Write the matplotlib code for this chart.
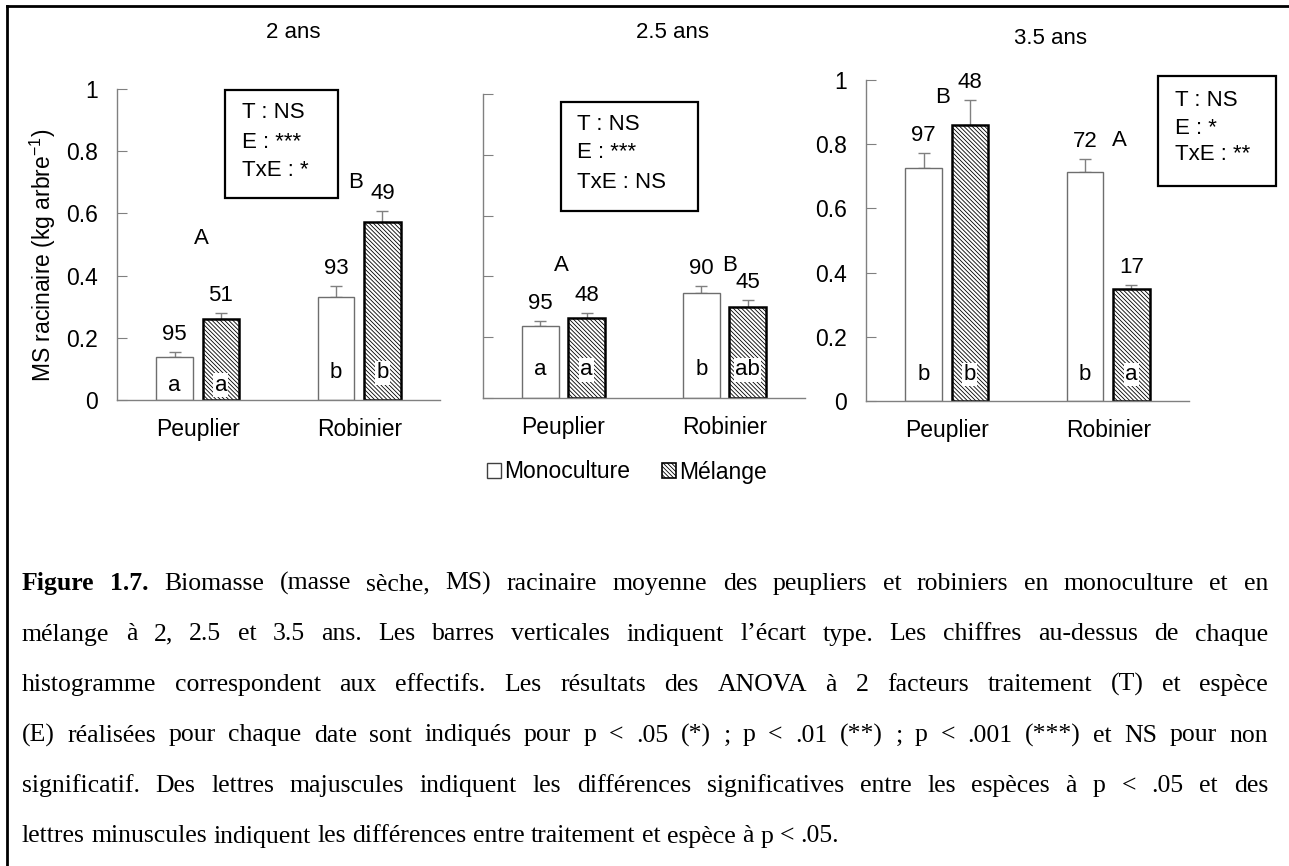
import numpy as np
import matplotlib
matplotlib.use("Agg")
import matplotlib.pyplot as plt
from matplotlib.patches import Patch, Rectangle
from matplotlib.lines import Line2D

plt.rcParams.update({'font.family': 'Liberation Sans', 'font.size': 16,
                     'mathtext.fontset': 'custom', 'mathtext.rm': 'Liberation Sans',
                     'hatch.linewidth': 0.6, 'hatch.color': '#202020'})

# data
titles = ["2 ans", "2.5 ans", "3.5 ans"]
species = ["Peuplier", "Robinier"]
treatments = ["Monoculture", "Mélange"]
mono_mean = [[0.138, 0.331], [0.237, 0.345], [0.726, 0.713]]
mono_sd = [[0.016, 0.036], [0.016, 0.025], [0.046, 0.041]]
mel_mean = [[0.260, 0.572], [0.263, 0.298], [0.860, 0.349]]
mel_sd = [[0.020, 0.036], [0.017, 0.024], [0.078, 0.012]]
mono_n = [[95, 93], [95, 90], [97, 72]]
mel_n = [[51, 49], [48, 45], [48, 17]]
mono_low = [["a", "b"], ["a", "b"], ["b", "b"]]
mel_low = [["a", "b"], ["a", "ab"], ["b", "a"]]
upper = [["A", "B"], ["A", "B"], ["B", "A"]]
upper_pos = [[(0.02, 0.518), (0.98, 0.70)],
             [(-0.01, 0.437), (1.03, 0.437)],
             [(-0.025, 0.947), (1.07, 0.813)]]
stats = [["T : NS", "E : ***", "TxE : *"],
         ["T : NS", "E : ***", "TxE : NS"],
         ["T : NS", "E : *", "TxE : **"]]

caption = [
    "Figure 1.7. Biomasse (masse sèche, MS) racinaire moyenne des peupliers et robiniers en monoculture et en",
    "mélange à 2, 2.5 et 3.5 ans. Les barres verticales indiquent l’écart type. Les chiffres au-dessus de chaque",
    "histogramme correspondent aux effectifs. Les résultats des ANOVA à 2 facteurs traitement (T) et espèce",
    "(E) réalisées pour chaque date sont indiqués pour p < .05 (*) ; p < .01 (**) ; p < .001 (***) et NS pour non",
    "significatif. Des lettres majuscules indiquent les différences significatives entre les espèces à p < .05 et des",
    "lettres minuscules indiquent les différences entre traitement et espèce à p < .05.",
]

W, H = 1289, 866
fig = plt.figure(figsize=(W / 100, H / 100), dpi=100)


def fx(px):
    return px / W


def fy(py):
    return 1 - py / H


GRAY = '#808080'
HATCH = '\\' * 8

# pixel frames of the three panels: left, right, y=0, y=1
frames = [(117, 440, 400, 89), (483, 805, 398, 94), (866, 1189, 401, 80)]
boxes = [(225, 90, 338, 198, 242, [113, 142, 170]),
         (561, 102, 698, 211, 577, [125, 153, 182]),
         (1158, 76, 1276, 186, 1175, [100, 128, 155])]
title_pos = [(293, 33), (673, 33), (1050, 39)]
low_y = [[0.03, 0.07], [0.075, 0.075], [0.065, 0.065]]

x = np.arange(len(species))
off, width = 0.143, 0.225

for i in range(3):
    l, r, b, t = frames[i]
    ax = fig.add_axes([fx(l), fy(b), (r - l) / W, (b - t) / H])
    ax.bar(x - off, mono_mean[i], width, color='white', edgecolor='#6e6e6e', lw=1, zorder=2)
    ax.bar(x + off, mel_mean[i], width, color='white', edgecolor='black', hatch=HATCH, lw=1.8, zorder=2)
    ax.errorbar(x - off, mono_mean[i], yerr=[np.zeros(2), mono_sd[i]], fmt='none',
                ecolor=GRAY, elinewidth=1, capsize=4, zorder=1)
    ax.errorbar(x + off, mel_mean[i], yerr=[np.zeros(2), mel_sd[i]], fmt='none',
                ecolor=GRAY, elinewidth=1, capsize=4, zorder=1)
    for j in range(2):
        ax.annotate(str(mono_n[i][j]), (x[j] - off, mono_mean[i][j] + mono_sd[i][j]),
                    xytext=(0, 5), textcoords='offset points', ha='center', va='bottom')
        ax.annotate(str(mel_n[i][j]), (x[j] + off, mel_mean[i][j] + mel_sd[i][j]),
                    xytext=(0, 5), textcoords='offset points', ha='center', va='bottom')
        ax.text(x[j] - off, low_y[i][j], mono_low[i][j], ha='center', va='baseline', zorder=3)
        ax.text(x[j] + off, low_y[i][j], mel_low[i][j], ha='center', va='baseline', zorder=3,
                bbox=dict(facecolor='white', edgecolor='none', pad=1))
        ax.text(upper_pos[i][j][0], upper_pos[i][j][1], upper[i][j], ha='center', va='center')

    ax.set_xlim(-0.5, 1.5)
    ax.set_ylim(0, 1)
    ax.set_xticks(x)
    ax.set_xticklabels(species)
    ax.set_yticks(np.arange(0, 1.01, 0.2))
    ax.set_yticklabels(['0', '0.2', '0.4', '0.6', '0.8', '1'])
    ax.tick_params(axis='x', length=0, pad=13, labelsize=16.5)
    ax.tick_params(axis='y', direction='in', length=7, color=GRAY, pad=14, labelsize=16.5,
                   labelleft=(i != 1))
    for s in ['top', 'right']:
        ax.spines[s].set_visible(False)
    for s in ['left', 'bottom']:
        ax.spines[s].set_color(GRAY)
        ax.spines[s].set_linewidth(1)
    ax.patch.set_visible(False)

    fig.text(fx(title_pos[i][0]), fy(title_pos[i][1]), titles[i], ha='center', va='center')

    bx0, by0, bx1, by1, tx, ty = boxes[i]
    fig.patches.append(Rectangle((fx(bx0), fy(by1)), (bx1 - bx0) / W, (by1 - by0) / H,
                                 transform=fig.transFigure, fill=False, edgecolor='black', lw=1.6))
    for k, line in enumerate(stats[i]):
        fig.text(fx(tx), fy(ty[k]), line, ha='left', va='center')

fig.text(fx(43), fy(255), r'MS racinaire (kg arbre$^{\mathregular{-1}}$)',
         rotation=90, ha='center', va='center', fontsize=16.5)

handles = [Patch(facecolor='white', edgecolor='#404040', lw=1),
           Patch(facecolor='white', edgecolor='black', hatch=HATCH, lw=1.2)]
fig.legend(handles, treatments, loc='center', bbox_to_anchor=(fx(627), fy(472)), ncol=2,
           frameon=False, handlelength=0.6, handleheight=0.6, handletextpad=0.15,
           columnspacing=1.4, fontsize=16.5)

# frame lines of the page cell
fig.add_artist(Line2D([fx(7), 1], [fy(6), fy(6)], color='black', lw=2, transform=fig.transFigure))
fig.add_artist(Line2D([fx(7), fx(7)], [fy(6), 0], color='black', lw=2, transform=fig.transFigure))

# justified caption
renderer = fig.canvas.get_renderer()
cap_size = 18.5
x0, x1 = 22, 1268
base_y = [590 + 50.5 * k for k in range(len(caption))]


def word_width(word, weight):
    tt = fig.text(0, 0, word, family='Liberation Serif', fontsize=cap_size, weight=weight)
    w = tt.get_window_extent(renderer).width
    tt.remove()
    return w


space_w = word_width('a a', 'normal') - 2 * word_width('a', 'normal')
for n_line, line in enumerate(caption):
    words = line.split(' ')
    weights = ['bold' if (n_line == 0 and k < 2) else 'normal' for k in range(len(words))]
    widths = [word_width(w, wt) for w, wt in zip(words, weights)]
    if n_line < len(caption) - 1:
        gap = (x1 - x0 - sum(widths)) / (len(words) - 1)
    else:
        gap = space_w
    cx = x0
    for w, wt, ww in zip(words, weights, widths):
        fig.text(fx(cx), fy(base_y[n_line]), w, family='Liberation Serif', fontsize=cap_size,
                 weight=wt, ha='left', va='baseline')
        cx += ww + gap

fig.savefig('out.png', dpi=100)
